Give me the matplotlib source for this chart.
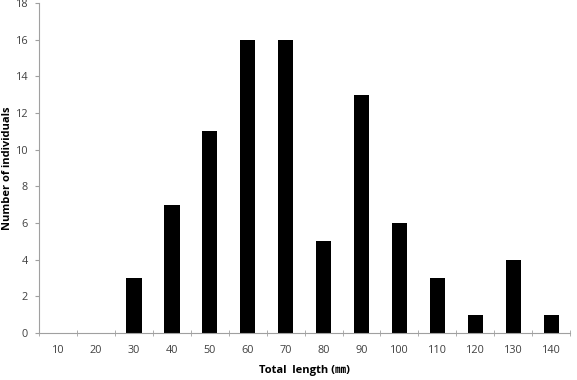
import matplotlib.pyplot as plt
import numpy as np

lengths = [10, 20, 30, 40, 50, 60, 70, 80, 90, 100, 110, 120, 130, 140]
counts = [0, 0, 3, 7, 11, 16, 16, 5, 13, 6, 3, 1, 4, 1]

plt.rcParams['font.family'] = ['Open Sans', 'Noto Sans CJK JP', 'DejaVu Sans']

fig = plt.figure(figsize=(5.77, 3.80), dpi=100)
ax = fig.add_axes([0.068, 0.124, 0.920, 0.868])

x = np.arange(len(lengths))
ax.bar(x, counts, width=0.4, color='black')

ax.set_xlim(-0.5, len(lengths) - 0.5)
ax.set_ylim(0, 18)
ax.set_yticks(range(0, 19, 2))
ax.set_xticks(x)
ax.set_xticklabels([str(v) for v in lengths])
ax.set_xticks(np.arange(-0.5, len(lengths)), minor=True)
ax.tick_params(axis='x', which='major', length=0, pad=9, labelsize=7.8, labelcolor='#404040')
ax.tick_params(axis='x', which='minor', length=4, color='#a0a0a0', direction='inout')
ax.tick_params(axis='y', length=3, color='#a0a0a0', labelsize=7.8, labelcolor='#404040', pad=5)

for s in ['top', 'right']:
    ax.spines[s].set_visible(False)
for s in ['left', 'bottom']:
    ax.spines[s].set_color('#a0a0a0')
    ax.spines[s].set_linewidth(0.8)

ax.set_xlabel('Total  length (\u339c)', fontsize=8, fontweight='bold', labelpad=6)
ax.set_ylabel('Number of individuals', fontsize=8, fontweight='bold')
ax.yaxis.set_label_coords(-0.049, 0.5)

fig.savefig('out.png', dpi=100)
